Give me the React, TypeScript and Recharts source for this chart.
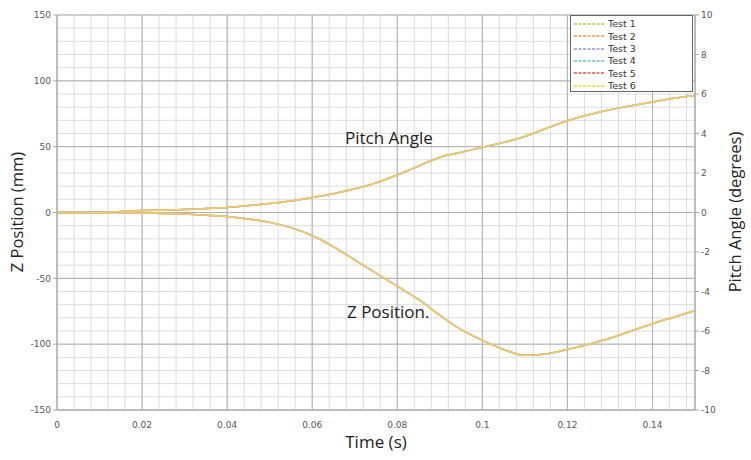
import { CartesianGrid, Line, LineChart, XAxis, YAxis } from "recharts";

document.body.style.margin = "0";

// time in seconds
const time = [
  0, 0.005, 0.01, 0.015, 0.02, 0.025, 0.03, 0.035, 0.04, 0.045, 0.05, 0.055, 0.06, 0.065, 0.07, 0.075,
  0.08, 0.085, 0.09, 0.095, 0.1, 0.105, 0.11, 0.115, 0.12, 0.125, 0.13, 0.135, 0.14, 0.145, 0.15,
];
// Z position in mm
const zPosition = [
  0, 0, 0, 0, -0.3, -0.7, -1.2, -2, -3, -5, -7.5, -11.5, -17.5, -26, -36, -46,
  -56, -66, -78, -89, -97, -104, -108.5, -107.5, -104, -100, -95.5, -90, -84.5, -79.5, -74.5,
];
// pitch angle in degrees
const pitchAngle = [
  0, 0, 0, 0.05, 0.1, 0.12, 0.15, 0.2, 0.25, 0.35, 0.45, 0.58, 0.76, 0.95, 1.2, 1.5,
  1.9, 2.35, 2.8, 3.05, 3.3, 3.55, 3.85, 4.25, 4.65, 4.95, 5.2, 5.4, 5.6, 5.78, 5.92,
];

const tests = ["Test 1", "Test 2", "Test 3", "Test 4", "Test 5", "Test 6"];
const testColors = ["#c9d66e", "#f4b27a", "#b9a9d9", "#86d3dc", "#ef7e6e", "#f3df62"];

const xTicks = [0, 0.02, 0.04, 0.06, 0.08, 0.1, 0.12, 0.14];
const zTicks = [-150, -100, -50, 0, 50, 100, 150];
const pitchTicks = [-10, -8, -6, -4, -2, 0, 2, 4, 6, 8, 10];

const minorX = Array.from({ length: 38 }, (_, i) => +(i * 0.004).toFixed(3)).concat([0.15]);
const minorY = Array.from({ length: 31 }, (_, i) => -150 + i * 10);
const majorX = [0, 0.02, 0.04, 0.06, 0.08, 0.1, 0.12, 0.14, 0.15];
const majorY = [-150, -100, -50, 0, 50, 100, 150];

const rows = time.map((t, i) => {
  const row: Record<string, number> = { t };
  tests.forEach((_, k) => {
    row[`z${k}`] = zPosition[i];
    row[`p${k}`] = pitchAngle[i];
  });
  return row;
});

const tickStyle = { fontSize: 9, fill: "#555", fontFamily: "DejaVu Sans" };
const titleFont = "'Open Sans', sans-serif";

export default function App() {
  return (
    <div style={{ position: "relative", width: 751, height: 460, background: "#fff" }}>
      <LineChart width={751} height={460} data={rows} margin={{ top: 15, right: 0, bottom: 0, left: 0 }}>
        <CartesianGrid stroke="#dcdcdc" verticalValues={minorX} horizontalValues={minorY} yAxisId="z" />
        <CartesianGrid stroke="#b0b0b0" verticalValues={majorX} horizontalValues={majorY} yAxisId="z" />
        <XAxis
          dataKey="t"
          type="number"
          domain={[0, 0.15]}
          ticks={xTicks}
          interval={0}
          height={50}
          tickLine={false}
          axisLine={{ stroke: "#aaa" }}
          tick={tickStyle}
          tickMargin={6}
          allowDataOverflow
        />
        <YAxis
          yAxisId="z"
          domain={[-150, 150]}
          ticks={zTicks}
          interval={0}
          width={57}
          tick={tickStyle}
          tickLine={{ stroke: "#aaa" }}
          tickSize={4}
          axisLine={{ stroke: "#aaa" }}
        />
        <YAxis
          yAxisId="p"
          orientation="right"
          domain={[-10, 10]}
          ticks={pitchTicks}
          interval={0}
          width={56}
          tick={tickStyle}
          tickLine={{ stroke: "#aaa" }}
          tickSize={4}
          axisLine={{ stroke: "#aaa" }}
        />
        {tests.map((name, k) => (
          <Line
            key={`z${k}`}
            yAxisId="z"
            dataKey={`z${k}`}
            name={name}
            type="monotone"
            stroke={testColors[k]}
            strokeWidth={1.5}
            strokeOpacity={0.8}
            dot={false}
            isAnimationActive={false}
          />
        ))}
        {tests.map((name, k) => (
          <Line
            key={`p${k}`}
            yAxisId="p"
            dataKey={`p${k}`}
            name={name}
            type="monotone"
            stroke={testColors[k]}
            strokeWidth={1.5}
            strokeOpacity={0.8}
            dot={false}
            isAnimationActive={false}
          />
        ))}
      </LineChart>

      <div
        style={{
          position: "absolute",
          left: 570,
          top: 15,
          width: 123,
          height: 77,
          border: "1.5px solid #666",
          background: "#fff",
          boxSizing: "border-box",
          padding: "2px 0 0 3px",
        }}
      >
        {tests.map((name, k) => (
          <div key={name} style={{ display: "flex", alignItems: "center", height: 12.3 }}>
            <svg width={30} height={4} style={{ marginRight: 4 }}>
              <line x1={0} y1={2} x2={30} y2={2} stroke={testColors[k]} strokeWidth={2} strokeDasharray="3 1.5" />
            </svg>
            <span style={{ fontSize: 9.5, fontFamily: "DejaVu Sans", color: "#333", lineHeight: 1 }}>{name}</span>
          </div>
        ))}
      </div>

      <div
        style={{ position: "absolute", left: 345, top: 129, fontSize: 17, lineHeight: 1, fontFamily: titleFont, color: "#222" }}
      >
        Pitch Angle
      </div>
      <div
        style={{ position: "absolute", left: 347, top: 303, fontSize: 17, lineHeight: 1, fontFamily: titleFont, color: "#222" }}
      >
        Z Position.
      </div>
      <div
        style={{
          position: "absolute",
          left: 376,
          top: 433,
          transform: "translateX(-50%)",
          fontSize: 17,
          lineHeight: 1,
          fontFamily: titleFont,
          color: "#222",
          whiteSpace: "nowrap",
        }}
      >
        Time (s)
      </div>
      <div
        style={{
          position: "absolute",
          left: 17,
          top: 212,
          transform: "translate(-50%, -50%) rotate(-90deg)",
          fontSize: 16.5,
          lineHeight: 1,
          fontFamily: titleFont,
          color: "#222",
          whiteSpace: "nowrap",
        }}
      >
        Z Position (mm)
      </div>
      <div
        style={{
          position: "absolute",
          left: 735,
          top: 212,
          transform: "translate(-50%, -50%) rotate(-90deg)",
          fontSize: 16.5,
          lineHeight: 1,
          fontFamily: titleFont,
          color: "#222",
          whiteSpace: "nowrap",
        }}
      >
        Pitch Angle (degrees)
      </div>
    </div>
  );
}
